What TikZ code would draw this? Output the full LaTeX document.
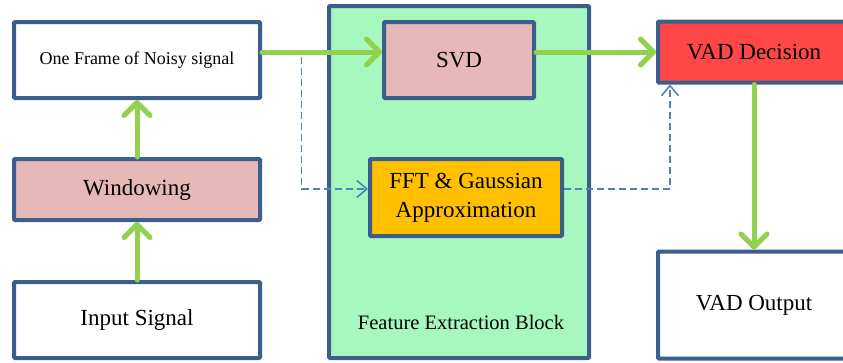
\documentclass[tikz,border=0pt]{standalone}
\usepackage{fontspec}
\setmainfont{Liberation Serif}
\usetikzlibrary{arrows.meta,calc}
\definecolor{edge}{HTML}{3C5E8C}
\definecolor{pinkfill}{HTML}{E6B9B8}
\definecolor{blockgreen}{HTML}{A6F8BE}
\definecolor{fftorange}{HTML}{FFC000}
\definecolor{decred}{HTML}{FF4747}
\definecolor{flowgreen}{HTML}{92D050}
\definecolor{linkblue}{HTML}{4F81BD}
\begin{document}
\begin{tikzpicture}[x=1pt,y=-1pt,
  box/.style={draw=edge,line width=4pt,rounded corners=1pt,inner sep=0pt,
    align=center,font=\fontsize{23}{29}\selectfont},
  flow/.style={draw=flowgreen,line width=5pt,line cap=round,
    -{Straight Barb[length=13pt,width=26pt,round]}},
  link/.style={draw=linkblue,line width=1.6pt,dash pattern=on 7pt off 4pt,
    -{Straight Barb[length=10pt,width=17pt]}}]
\useasboundingbox (0,0) rectangle (843,362);
\clip (0,0) rectangle (843,362);

% left column
\node[box,fill=white,minimum width=246pt,minimum height=76pt,
  font=\fontsize{18}{22}\selectfont] (frame) at (137,60) {One Frame of Noisy signal};
\node[box,fill=pinkfill,minimum width=246pt,minimum height=61pt] (win) at (137,189.5) {Windowing};
\node[box,fill=white,minimum width=246pt,minimum height=76pt] (input) at (137,320) {Input Signal};

% feature extraction block
\node[box,fill=blockgreen,minimum width=260pt,minimum height=352pt] (feat) at (459,182) {};
\node[font=\fontsize{20.5}{24}\selectfont] (featlabel) at (461,322) {Feature Extraction Block};
\node[box,fill=pinkfill,minimum width=150pt,minimum height=76pt] (svd) at (459,60) {SVD};
\node[box,fill=fftorange,minimum width=192pt,minimum height=77pt] (fft) at (466,197.5) {FFT \& Gaussian\\Approximation};

% right column
\node[box,fill=decred,minimum width=192pt,minimum height=61pt] (dec) at (754,52) {VAD Decision};
\node[box,fill=white,minimum width=192pt,minimum height=107pt] (out) at (754,305) {VAD Output};

% main signal path
\draw[flow] (input.north) -- (win.south);
\draw[flow] (win.north) -- (frame.south);
\draw[flow] ([yshift=8pt]frame.east) -- ([yshift=8pt]svd.west);
\draw[flow] (svd.east |- dec.west) -- (dec.west);
\draw[flow] (dec.south) -- (out.north);

% spectral branch
\coordinate (split) at (301.5,57);
\draw[link] (split) |- ([yshift=8.5pt]fft.west);
\draw[link] ([yshift=8.5pt]fft.east) -| ([xshift=14pt]dec.south west);
\end{tikzpicture}
\end{document}
